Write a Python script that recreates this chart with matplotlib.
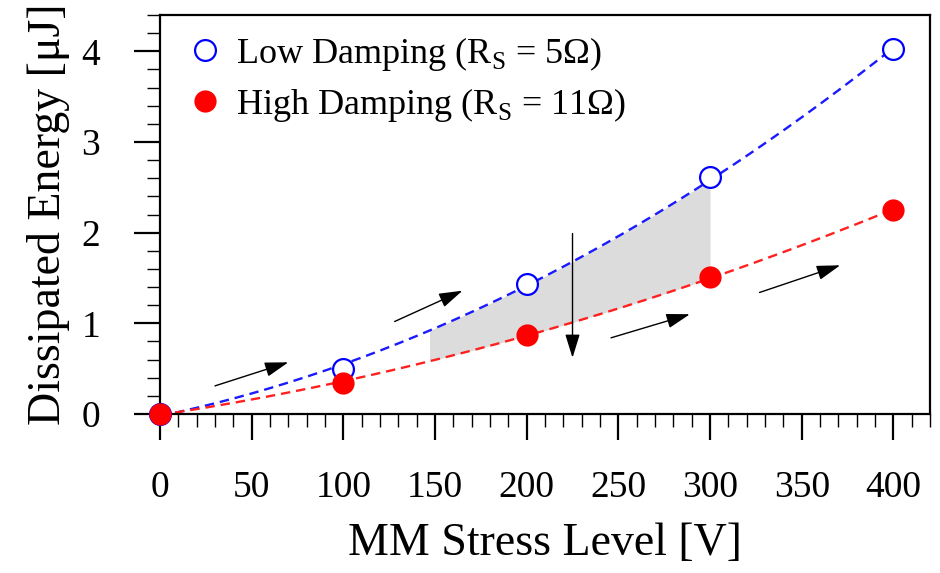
# dissipated energy vs MM stress level

import numpy as np
import matplotlib.pyplot as plt
from matplotlib.ticker import MultipleLocator

plt.rcParams["font.family"] = "Liberation Serif"
plt.rcParams["mathtext.fontset"] = "custom"
plt.rcParams["mathtext.rm"] = "Liberation Serif"


# Data

stress = [0, 100, 200, 300, 400]
e_low = [0.0, 0.50, 1.43, 2.61, 4.02]
e_high = [0.0, 0.34, 0.87, 1.51, 2.25]

label_low = r"Low Damping (R$_\mathrm{S}$ = 5Ω)"
label_high = r"High Damping (R$_\mathrm{S}$ = 11Ω)"

shade_from, shade_to = 147, 300

# arrows: (x0, y0, x1, y1)
arrows = [
    (30, 0.31, 70, 0.57),
    (128, 1.02, 165, 1.36),
    (225, 1.99, 225, 0.62),
    (246, 0.84, 289, 1.10),
    (327, 1.34, 371, 1.64),
]


# Quadratic fits for the dashed curves

p_low = np.polyfit(stress, e_low, 2)
p_high = np.polyfit(stress, e_high, 2)
xs = np.linspace(0, 400, 200)
xf = np.linspace(shade_from, shade_to, 100)


# Plot

fig = plt.figure(figsize=(9.4, 5.73), dpi=100)
ax = fig.add_axes([0.1702, 0.2775, 0.8192, 0.6963])

ax.fill_between(xf, np.polyval(p_high, xf), np.polyval(p_low, xf),
                color="#dcdcdc", lw=0, zorder=1)

ax.plot(xs, np.polyval(p_low, xs), ls=(0, (4, 2.5)), color="#1a1aff", lw=1.7, zorder=2)
ax.plot(xs, np.polyval(p_high, xs), ls=(0, (4, 2.5)), color="#ff2020", lw=1.7, zorder=2)

ax.plot(stress, e_low, "o", ms=15, mfc="white", mec="#0000ff", mew=1.6,
        ls="none", label=label_low, zorder=4, clip_on=False)
ax.plot(stress, e_high, "o", ms=16, mfc="#ff0000", mec="#ff0000", mew=0,
        ls="none", label=label_high, zorder=5, clip_on=False)

for x0, y0, x1, y1 in arrows:
    ax.annotate("", xy=(x1, y1), xytext=(x0, y0),
                arrowprops=dict(arrowstyle="-|>,head_length=1.45,head_width=0.45",
                                color="black", lw=1.0, shrinkA=0, shrinkB=0),
                zorder=3)

ax.set_xlim(0, 420)
ax.set_ylim(0, 4.4)

ax.xaxis.set_major_locator(MultipleLocator(50))
ax.xaxis.set_minor_locator(MultipleLocator(10))
ax.yaxis.set_major_locator(MultipleLocator(1))
ax.yaxis.set_minor_locator(MultipleLocator(0.2))

ax.tick_params(which="major", direction="out", length=19, width=1.6,
               labelsize=27)
ax.tick_params(axis="x", which="major", pad=22)
ax.tick_params(axis="y", which="major", pad=24)
ax.tick_params(which="minor", direction="out", length=9.5, width=1.0)

for s in ax.spines.values():
    s.set_linewidth(1.6)

ax.set_xlabel("MM Stress Level [V]", fontsize=33, labelpad=12)
ax.set_ylabel("Dissipated Energy [μJ]", fontsize=33, labelpad=8)

ax.legend(loc="upper left", frameon=False, fontsize=26, handletextpad=0.15,
          labelspacing=0.35, borderaxespad=0.15, handlelength=1.4,
          bbox_to_anchor=(0.0, 1.0))

plt.savefig("out.png", dpi=100)
